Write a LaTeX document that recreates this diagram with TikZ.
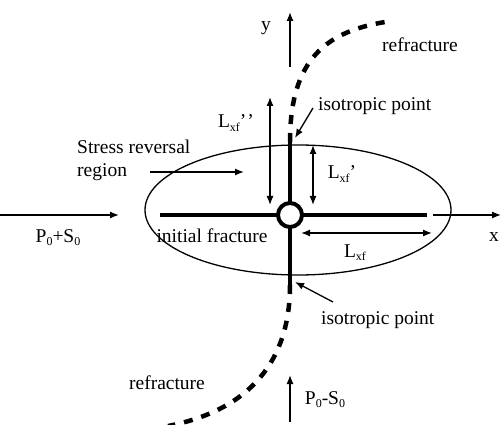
\documentclass[tikz,border=0pt]{standalone}
\usepackage{fontspec}
\setmainfont{Liberation Serif}
\usetikzlibrary{arrows.meta}
\newcommand\lowsub[1]{\raisebox{-0.35ex}{\fontsize{12}{12}\selectfont #1}}
\begin{document}
\begin{tikzpicture}[x=1pt,y=-1pt,
  lbl/.style={font=\fontsize{19.5}{23}\selectfont, inner sep=0pt},
  arr/.style={line width=1.3pt,-{Latex[length=9pt,width=7pt]}},
  darr/.style={line width=1.3pt,{Latex[length=9pt,width=7pt]}-{Latex[length=9pt,width=7pt]}},
  frac/.style={line width=4.5pt},
  refrac/.style={line width=4.5pt,dash pattern=on 9pt off 9pt}]
\useasboundingbox (0,0) rectangle (501,425);
\clip (0,0) rectangle (501,425);
% ellipse
\draw[line width=1.3pt] (298,210) ellipse [x radius=153, y radius=65];
% coordinates
\coordinate (c) at (290,215);
\coordinate (fl) at (160,215);
\coordinate (fr) at (427,215);
\coordinate (ft) at (290,142);
\coordinate (fb) at (290,285);
% fractures
\draw[frac] (fl) -- (fr);
\draw[frac] (ft) -- (fb);
% refractures
\coordinate (rt) at (392,21);
\coordinate (rb) at (168,426);
\draw[refrac] (ft) .. controls (290,60) and (325,30) .. (rt);
\draw[refrac] (fb) .. controls (290,370) and (240,412) .. (rb);
% wellbore circle
\node[circle, draw, line width=4pt, fill=white, minimum size=24pt, inner sep=0pt] (well) at (c) {};
% axes
\coordinate (ya) at (290,67);
\coordinate (yb) at (290,12);
\draw[arr] (ya) -- (yb);
\node[lbl] (ylab) at (266,28) {y};
\coordinate (xa) at (433,215);
\coordinate (xb) at (501,215);
\draw[arr] (xa) -- (xb);
\node[lbl] (xlab) at (494,237) {x};
% stress arrows
\coordinate (pl1) at (0,215);
\coordinate (pl2) at (119,215);
\draw[arr] (pl1) -- (pl2);
\node[lbl] (pps) at (58,238) {P\lowsub{0}+S\lowsub{0}};
\coordinate (pb1) at (290,422);
\coordinate (pb2) at (290,375);
\draw[arr] (pb1) -- (pb2);
\node[lbl] (pms) at (325,400) {P\lowsub{0}-S\lowsub{0}};
% labels
\node[lbl] (rtl) at (420,45) {refracture};
\node[lbl] (rbl) at (167,383) {refracture};
\node[lbl,anchor=west] (isot) at (318,106) {isotropic point};
\coordinate (isot1) at (313,108);
\coordinate (isot2) at (295,138);
\draw[arr] (isot1) -- (isot2);
\node[lbl,anchor=west] (isob) at (321,320) {isotropic point};
\coordinate (isob1) at (333,302);
\coordinate (isob2) at (295,282);
\draw[arr] (isob1) -- (isob2);
\node[lbl,anchor=west,align=left] (srr) at (77,160) {Stress reversal\\region};
\coordinate (sr1) at (150,172);
\coordinate (sr2) at (244,172);
\draw[arr] (sr1) -- (sr2);
\node[lbl] (ini) at (212,236) {initial fracture};
% lengths
\coordinate (l2a) at (270,97);
\coordinate (l2b) at (270,205);
\draw[darr] (l2a) -- (l2b);
\node[lbl] (l2) at (236,123) {L\lowsub{xf}'\kern1pt'};
\coordinate (l1a) at (313,145);
\coordinate (l1b) at (313,205);
\draw[darr] (l1a) -- (l1b);
\node[lbl] (l1) at (342,174) {L\lowsub{xf}'};
\coordinate (la) at (301,233);
\coordinate (lb) at (432,233);
\draw[darr] (la) -- (lb);
\node[lbl] (l0) at (355,253) {L\lowsub{xf}};
\end{tikzpicture}
\end{document}
